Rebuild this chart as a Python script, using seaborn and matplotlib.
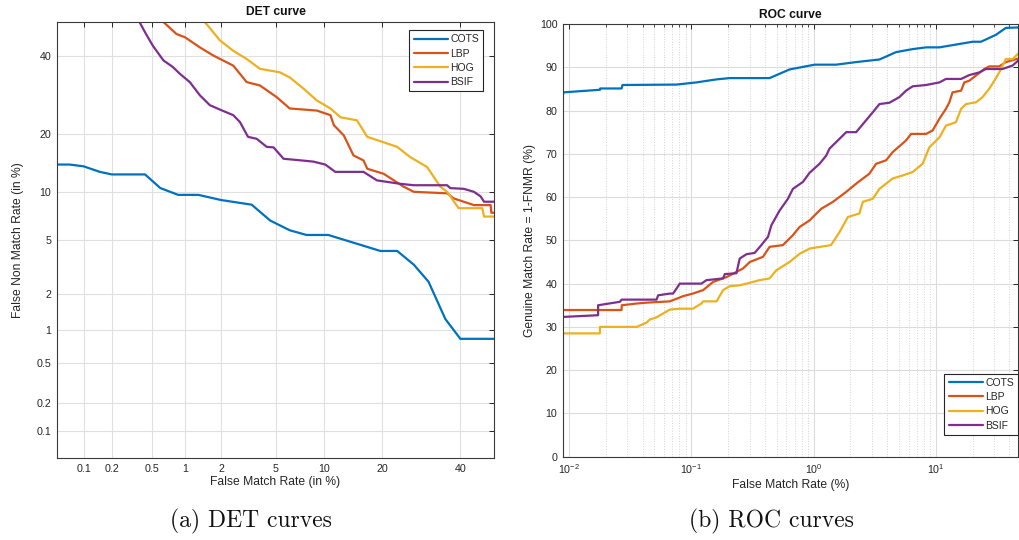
import math
import numpy as np
import pandas as pd
import matplotlib
matplotlib.use("Agg")
import matplotlib.pyplot as plt
import seaborn as sns

# ---------------- data ----------------
methods = ["COTS", "LBP", "HOG", "BSIF"]
colors = ["#0072BD", "#D95319", "#EDB120", "#7E2F8E"]

# DET curves (FMR %, FNMR %)
det_cots_fmr = [0.05, 0.07, 0.1, 0.15, 0.2, 0.43, 0.6, 0.87, 1.3, 2.0, 3.4, 4.6, 6.2, 7.9, 10.6,
                14.8, 19.6, 23.3, 27.3, 31.1, 35.7, 40, 50]
det_cots_fnmr = [14.1, 14.1, 13.8, 12.9, 12.5, 12.5, 10.5, 9.6, 9.6, 8.95, 8.4, 6.7, 5.8, 5.4, 5.4,
                 4.75, 4.2, 4.2, 3.35, 2.5, 1.25, 0.84, 0.84]

det_lbp_fmr = [0.64, 0.84, 1.0, 1.34, 1.73, 2.48, 3.13, 3.9, 5.1, 6.2, 9.1, 10.9, 11.4, 12.9, 14.5,
               16.3, 17.0, 20.3, 24.8, 27.3, 36.2, 38.1, 44.0, 49.0, 49.2, 50]
det_lbp_fnmr = [50, 46.4, 45.4, 42.4, 40.0, 37.1, 32.5, 31.6, 28.5, 25.7, 25.2, 24.1, 21.8, 19.6, 15.7,
                14.8, 13.4, 12.6, 10.7, 10.0, 9.8, 9.15, 8.35, 8.35, 7.5, 7.5]

det_hog_fmr = [1.47, 1.73, 1.95, 2.48, 3.13, 3.9, 5.35, 6.2, 7.6, 9.1, 10.9, 12.4, 15.1, 17.0, 20.3,
               23.3, 26.4, 30.7, 34.3, 36.2, 39.5, 46.5, 47.0, 50]
det_hog_fnmr = [50, 46.9, 44.5, 41.4, 39.0, 36.2, 35.2, 33.8, 30.7, 27.7, 25.7, 23.6, 22.9, 19.3, 18.2,
                17.3, 15.4, 13.7, 10.7, 10.0, 8.0, 8.0, 7.1, 7.1]

det_bsif_fmr = [0.38, 0.43, 0.51, 0.64, 0.78, 0.9, 1.1, 1.34, 1.62, 2.07, 2.48, 2.79, 3.2, 3.7, 4.35,
                4.85, 5.65, 7.4, 8.7, 10.2, 11.6, 16.3, 18.9, 24.0, 27.3, 36.2, 37.1, 41.0, 44.0,
                46.0, 47.0, 50]
det_bsif_fnmr = [50, 46.9, 42.9, 38.6, 36.7, 34.8, 32.5, 29.0, 26.5, 25.1, 24.1, 22.5, 19.3, 18.9, 17.3,
                 17.2, 15.1, 14.8, 14.6, 14.1, 12.9, 12.9, 11.6, 11.1, 10.9, 10.9, 10.5, 10.4, 10.0,
                 9.4, 8.75, 8.75]

# ROC curves (FMR %, GMR %)
roc_cots_fmr = [0.0089, 0.009, 0.0179, 0.018, 0.0269, 0.0274, 0.0757, 0.110, 0.161, 0.206, 0.437,
                0.637, 1.02, 1.53, 2.23, 3.46, 4.73, 6.47, 8.32, 10.7, 20.0, 23.4, 31.0, 37.4, 47.0]
roc_cots_gmr = [83.5, 84.2, 84.8, 85.1, 85.1, 85.9, 86.0, 86.5, 87.2, 87.5, 87.5,
                89.5, 90.6, 90.6, 91.2, 91.8, 93.5, 94.2, 94.6, 94.6, 95.9, 95.9, 97.5, 99.1, 99.2]

roc_lbp_fmr = [0.0089, 0.0089, 0.0269, 0.0270, 0.0357, 0.0431, 0.0667, 0.0757, 0.0857, 0.103, 0.125,
               0.151, 0.194, 0.265, 0.301, 0.386, 0.437, 0.561, 0.678, 0.769, 0.927, 1.156, 1.44,
               1.85, 2.23, 2.86, 3.25, 3.92, 4.44, 5.71, 6.28, 8.32, 9.42, 10.7, 12.1, 12.9, 13.7,
               16.1, 17.1, 18.8, 21.3, 24.9, 27.3, 33.0, 37.4, 47.0]
roc_lbp_gmr = [30.0, 33.9, 33.9, 35.0, 35.4, 35.6, 35.9, 36.5, 37.1, 37.7, 38.5,
               40.4, 41.5, 43.5, 45.0, 46.2, 48.5, 48.9, 51.2, 53.1, 54.6, 57.3, 58.9,
               61.2, 63.1, 65.4, 67.7, 68.5, 70.4, 73.1, 74.6, 74.6, 75.4, 78.1, 80.4, 81.9, 84.2,
               84.6, 86.5, 86.9, 88.1, 89.6, 90.2, 90.2, 91.2, 92.0]

roc_hog_fmr = [0.0089, 0.0089, 0.0179, 0.0179, 0.0357, 0.0431, 0.0458, 0.052, 0.0589, 0.0667, 0.0806,
               0.103, 0.121, 0.125, 0.161, 0.182, 0.206, 0.249, 0.301, 0.362, 0.437, 0.496, 0.637,
               0.769, 0.927, 1.39, 1.63, 1.91, 2.37, 2.53, 3.05, 3.46, 4.44, 5.36, 6.47, 7.8, 8.85,
               10.7, 12.1, 14.6, 16.1, 17.7, 21.3, 24.1, 27.3, 30.1, 33.0, 37.4, 42.4, 47.0]
roc_hog_gmr = [26.5, 28.5, 28.5, 30.0, 30.0, 31.0, 31.7, 32.2, 33.1, 34.0, 34.2,
               34.2, 35.4, 35.9, 35.9, 38.5, 39.4, 39.6, 40.2, 40.8, 41.2, 43.1, 45.0,
               46.9, 48.1, 48.9, 51.9, 55.4, 56.2, 58.9, 59.6, 61.9, 64.3, 65.0, 65.8, 67.7, 71.5,
               73.8, 76.5, 77.3, 80.4, 81.5, 81.9, 83.1, 85.0, 86.9, 88.8, 91.9, 91.9, 93.1]

roc_bsif_fmr = [0.0089, 0.0089, 0.0173, 0.0173, 0.0261, 0.0269, 0.052, 0.0536, 0.0667, 0.0710, 0.0806,
                0.121, 0.133, 0.182, 0.188, 0.234, 0.249, 0.283, 0.330, 0.374, 0.424, 0.452, 0.528,
                0.617, 0.678, 0.818, 0.927, 1.12, 1.27, 1.35, 1.53, 1.85, 2.23, 3.05, 3.46, 4.17,
                5.03, 5.71, 6.47, 8.32, 9.42, 10.7, 12.1, 16.1, 18.8, 22.6, 25.7, 35.1, 42.4, 47.0]
roc_bsif_gmr = [31.7, 32.3, 32.7, 35.0, 35.8, 36.3, 36.3, 37.3, 37.7, 37.7, 40.0,
                40.0, 40.8, 41.2, 42.2, 42.4, 45.8, 46.8, 47.1, 48.9, 50.8, 53.5, 56.9,
                59.6, 61.9, 63.5, 65.6, 67.7, 69.6, 71.2, 72.7, 75.0, 75.0, 79.6, 81.5, 81.8,
                83.1, 84.6, 85.6, 85.9, 86.2, 86.5, 87.3, 87.3, 88.2, 88.8, 89.6, 89.6, 90.4, 91.5]

det_ticks = [0.1, 0.2, 0.5, 1, 2, 5, 10, 20, 40]
det_ticklabels = ["0.1", "0.2", "0.5", "1", "2", "5", "10", "20", "40"]
roc_yticks = [0, 10, 20, 30, 40, 50, 60, 70, 80, 90, 100]


def _frame(xs, ys, xname, yname):
    rows = []
    for m, x, y in zip(methods, xs, ys):
        rows.append(pd.DataFrame({xname: x, yname: y, "method": m}))
    return pd.concat(rows, ignore_index=True)


det_df = _frame([det_cots_fmr, det_lbp_fmr, det_hog_fmr, det_bsif_fmr],
                [det_cots_fnmr, det_lbp_fnmr, det_hog_fnmr, det_bsif_fnmr], "fmr", "fnmr")
roc_df = _frame([roc_cots_fmr, roc_lbp_fmr, roc_hog_fmr, roc_bsif_fmr],
                [roc_cots_gmr, roc_lbp_gmr, roc_hog_gmr, roc_bsif_gmr], "fmr", "gmr")

# ---------------- probit (normal deviate) scale ----------------
_a = [-3.969683028665376e+01, 2.209460984245205e+02, -2.759285104469687e+02,
      1.383577518672690e+02, -3.066479806614716e+01, 2.506628277459239e+00]
_b = [-5.447609879822406e+01, 1.615858368580409e+02, -1.556989798598866e+02,
      6.680131188771972e+01, -1.328068155288572e+01]
_c = [-7.784894002430293e-03, -3.223964580411365e-01, -2.400758276161838e+00,
      -2.549732539343734e+00, 4.374664141464968e+00, 2.938163982698783e+00]
_d = [7.784695709041462e-03, 3.224671290700398e-01, 2.445134137142996e+00,
      3.754408661907416e+00]


def _probit(pct):
    p = np.clip(np.asarray(pct, dtype=float) / 100.0, 1e-10, 1 - 1e-10)
    plow = 0.02425
    q = np.sqrt(-2 * np.log(p))
    lo = (((((_c[0]*q+_c[1])*q+_c[2])*q+_c[3])*q+_c[4])*q+_c[5]) / \
         ((((_d[0]*q+_d[1])*q+_d[2])*q+_d[3])*q+1)
    qh = np.sqrt(-2 * np.log(1 - p))
    hi = -(((((_c[0]*qh+_c[1])*qh+_c[2])*qh+_c[3])*qh+_c[4])*qh+_c[5]) / \
         ((((_d[0]*qh+_d[1])*qh+_d[2])*qh+_d[3])*qh+1)
    qc = p - 0.5
    r = qc * qc
    mid = (((((_a[0]*r+_a[1])*r+_a[2])*r+_a[3])*r+_a[4])*r+_a[5])*qc / \
          (((((_b[0]*r+_b[1])*r+_b[2])*r+_b[3])*r+_b[4])*r+1)
    return np.where(p < plow, lo, np.where(p > 1 - plow, hi, mid))


_erf = np.vectorize(math.erf, otypes=[float])


def _inv_probit(z):
    z = np.asarray(z, dtype=float)
    return 100.0 * 0.5 * (1.0 + _erf(z / math.sqrt(2.0)))


# ---------------- style ----------------
sns.set_style("white")
plt.rcParams["font.family"] = ["Liberation Sans", "DejaVu Sans"]
plt.rcParams["mathtext.default"] = "regular"

W, H = 1019, 540
fig = plt.figure(figsize=(W / 100, H / 100), dpi=100)
ax1 = fig.add_axes([57 / W, 1 - 458 / H, 437 / W, 436 / H])
ax2 = fig.add_axes([563 / W, 1 - 456.7 / H, 455 / W, 432.7 / H])

txt = "#262626"
for ax in (ax1, ax2):
    for s in ax.spines.values():
        s.set_color("#3a3a3a")
        s.set_linewidth(0.8)
    ax.set_facecolor("white")

lab_fs = 8.7
tick_fs = 7.7
leg_kw = dict(borderaxespad=0, fontsize=7.5, frameon=True, fancybox=False,
              edgecolor="#262626", framealpha=1, handlelength=3.3, handletextpad=0.2,
              labelspacing=0.42, borderpad=0.4)

# ---------------- DET ----------------
ax1.set_xscale("function", functions=(_probit, _inv_probit))
ax1.set_yscale("function", functions=(_probit, _inv_probit))
sns.lineplot(data=det_df, x="fmr", y="fnmr", hue="method", hue_order=methods,
             palette=colors, sort=False, estimator=None, linewidth=1.6, ax=ax1)
ax1.set_xlim(0.05, 50)
ax1.set_ylim(0.05, 50)
ax1.set_xticks(det_ticks)
ax1.set_xticklabels(det_ticklabels)
ax1.set_yticks(det_ticks)
ax1.set_yticklabels(det_ticklabels)
ax1.minorticks_off()
ax1.grid(True, which="major", color="#e0e0e0", linewidth=0.8)
ax1.set_axisbelow(True)
ax1.tick_params(direction="in", top=True, right=True, length=3.5, width=0.7,
                labelsize=tick_fs, color="#262626", labelcolor=txt, pad=4)
ax1.set_xlabel("False Match Rate (in %)", fontsize=lab_fs, color=txt, labelpad=2)
ax1.set_ylabel("False Non Match Rate (in %)", fontsize=lab_fs, color=txt, labelpad=9)
ax1.set_title("DET curve", fontsize=8.7, fontweight="bold", color="#111111", pad=5)
leg1 = ax1.legend(loc="upper right", bbox_to_anchor=((483 - 57) / 437, (458 - 30) / 436),
                  **leg_kw)
leg1.get_frame().set_linewidth(0.8)

# ---------------- ROC ----------------
sns.lineplot(data=roc_df, x="fmr", y="gmr", hue="method", hue_order=methods,
             palette=colors, sort=False, estimator=None, linewidth=1.6, ax=ax2)
ax2.set_xscale("log")
ax2.set_xlim(0.00893, 47)
ax2.set_ylim(0, 100)
ax2.set_yticks(roc_yticks)
ax2.grid(True, which="major", color="#dcdcdc", linewidth=0.8)
ax2.grid(True, which="minor", color="#d2d2d2", linestyle=":", linewidth=0.7)
ax2.set_axisbelow(True)
ax2.tick_params(which="major", direction="in", top=True, right=True, length=3.5, width=0.7,
                labelsize=tick_fs, color="#262626", labelcolor=txt, pad=4)
ax2.tick_params(which="minor", direction="in", top=True, right=True, length=2, width=0.6,
                color="#262626")
ax2.set_xlabel("False Match Rate (%)", fontsize=lab_fs, color=txt, labelpad=2)
ax2.set_ylabel("Genuine Match Rate = 1-FNMR (%)", fontsize=lab_fs, color=txt, labelpad=3)
ax2.set_title("ROC curve", fontsize=8.7, fontweight="bold", color="#111111", pad=4)
leg2 = ax2.legend(loc="lower right", bbox_to_anchor=(1.0, (456.7 - 435) / 432.7), **leg_kw)
leg2.get_frame().set_linewidth(0.8)

# ---------------- captions ----------------
fig.text(251 / W, 1 - 521 / H, "(a) DET curves", ha="center", va="center",
         family=["cmr10", "DejaVu Serif"], fontsize=17, color="#111111")
fig.text(771 / W, 1 - 521 / H, "(b) ROC curves", ha="center", va="center",
         family=["cmr10", "DejaVu Serif"], fontsize=17, color="#111111")

fig.savefig("out.png", dpi=100, facecolor="white")
